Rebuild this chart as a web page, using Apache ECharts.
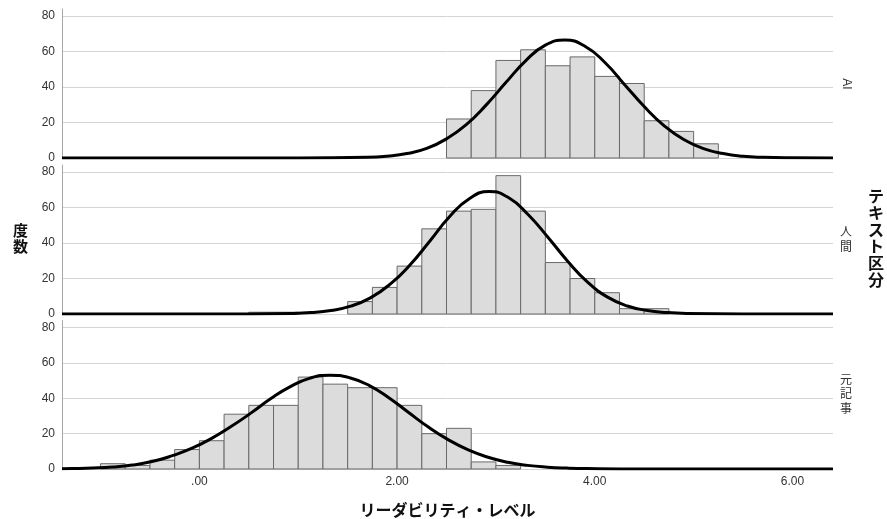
<!DOCTYPE html>
<html>
<head>
<meta charset="utf-8">
<script src="https://cdn.jsdelivr.net/npm/echarts@6/dist/echarts.min.js"></script>
<style>
    html, body { margin: 0; padding: 0; background: #fff; }
    #chart { width: 887px; height: 519px; }
</style>
</head>
<body>
<div id="chart"></div>
<script>
// ビン幅（リーダビリティ・レベル）
var binWidth = 0.25;

// AI
var aiBinLow = [2.5, 2.75, 3.0, 3.25, 3.5, 3.75, 4.0, 4.25, 4.5, 4.75, 5.0];
var aiCounts = [22, 38, 55, 61, 52, 57, 46, 42, 21, 15, 8];
var aiCurveX = [-1.39, 1.0, 1.7, 1.9, 2.1, 2.3, 2.5, 2.7, 2.9, 3.1, 3.3, 3.5, 3.7, 3.9, 4.1, 4.3, 4.5, 4.7, 4.9, 5.1, 5.3, 5.5, 5.7, 6.0, 6.41];
var aiCurveY = [0, 0, 0.4, 1.05, 2.5, 5.4, 10.8, 18.8, 29.8, 42.5, 54.8, 63.6, 66.5, 63, 54, 41.5, 29, 18.3, 10.4, 5.3, 2.5, 1.0, 0.4, 0.1, 0];

// 人間
var humanBinLow = [0.5, 0.75, 1.5, 1.75, 2.0, 2.25, 2.5, 2.75, 3.0, 3.25, 3.5, 3.75, 4.0, 4.25, 4.5];
var humanCounts = [1, 1, 7, 15, 27, 48, 58, 59, 78, 58, 29, 20, 12, 3, 3];
var humanCurveX = [-1.39, 0.5, 0.93, 1.13, 1.33, 1.53, 1.73, 1.93, 2.13, 2.33, 2.53, 2.73, 2.93, 3.13, 3.33, 3.53, 3.73, 3.93, 4.13, 4.33, 4.53, 4.73, 4.93, 5.5, 6.41];
var humanCurveY = [0, 0, 0.27, 0.8, 2.0, 4.4, 9.1, 16.8, 27.6, 41, 54.8, 65, 69, 65.5, 55.8, 43, 29.5, 17.8, 9.5, 4.5, 2.0, 0.8, 0.27, 0, 0];

// 元記事
var origBinLow = [-1.0, -0.75, -0.5, -0.25, 0, 0.25, 0.5, 0.75, 1.0, 1.25, 1.5, 1.75, 2.0, 2.25, 2.5, 2.75, 3.0];
var origCounts = [3, 2, 5, 11, 16, 31, 36, 36, 52, 48, 46, 46, 36, 20, 23, 4, 2];
var origCurveX = [-1.39, -1.28, -1.08, -0.88, -0.68, -0.48, -0.28, -0.08, 0.12, 0.32, 0.52, 0.72, 0.92, 1.12, 1.32, 1.52, 1.72, 1.92, 2.12, 2.32, 2.52, 2.72, 2.92, 3.12, 3.32, 3.52, 3.72, 3.92, 4.5, 6.41];
var origCurveY = [0.15, 0.25, 0.55, 1.1, 2.2, 4.2, 7.4, 11.6, 17.2, 24, 31.6, 39.7, 46.6, 51.4, 53.1, 51.6, 47.2, 40.2, 31.8, 23.6, 16.5, 10.8, 6.65, 3.8, 2.05, 1.05, 0.5, 0.22, 0, 0];

var xTicks = [0, 2, 4, 6];
var yTicks = [0, 20, 40, 60, 80];

var panels = [
    { name: 'AI', low: aiBinLow, counts: aiCounts, cx: aiCurveX, cy: aiCurveY },
    { name: '人間', low: humanBinLow, counts: humanCounts, cx: humanCurveX, cy: humanCurveY },
    { name: '元記事', low: origBinLow, counts: origCounts, cx: origCurveX, cy: origCurveY }
];

var gridTops = [9, 165, 320.5];
var latin = '"Liberation Sans", Arial, sans-serif';
var cjk = '"Noto Sans CJK JP", sans-serif';

function renderBars(params, api) {
    var p0 = api.coord([api.value(0), api.value(2)]);
    var p1 = api.coord([api.value(1), 0]);
    return {
        type: 'rect',
        shape: { x: p0[0], y: p0[1], width: p1[0] - p0[0], height: p1[1] - p0[1] },
        style: { fill: '#dcdcdc', stroke: '#6a6a6a', lineWidth: 1 }
    };
}

var grids = [], xAxes = [], yAxes = [], series = [];
panels.forEach(function (p, i) {
    var last = i === panels.length - 1;
    grids.push({ left: 62, right: 54, top: gridTops[i], height: 149 });
    xAxes.push({
        type: 'value', gridIndex: i, min: -1.39, max: 6.41,
        axisLine: { show: false }, axisTick: { show: false },
        splitLine: { show: false },
        axisLabel: {
            show: last, customValues: xTicks, margin: 7,
            color: '#333', fontSize: 12, fontFamily: latin,
            formatter: function (v) { return v === 0 ? '.00' : v.toFixed(2); }
        },
        name: last ? 'リーダビリティ・レベル' : '',
        nameLocation: 'middle', nameGap: 33,
        nameTextStyle: { color: '#111', fontSize: 16, fontWeight: 'bold', fontFamily: cjk }
    });
    yAxes.push({
        type: 'value', gridIndex: i, min: 0, max: 84, interval: 20,
        axisLine: { show: true, onZero: false, lineStyle: { color: '#a8a8a8', width: 1 } },
        axisTick: { show: false },
        axisLabel: {
            color: '#333', fontSize: 12, fontFamily: latin, margin: 7,
            customValues: yTicks
        },
        splitLine: { show: true, showMaxLine: false, lineStyle: { color: '#d4d4d4', width: 1 } }
    });
    series.push({
        type: 'custom', xAxisIndex: i, yAxisIndex: i,
        renderItem: renderBars,
        encode: { x: [0, 1], y: 2 },
        data: p.low.map(function (lo, k) { return [lo, lo + binWidth, p.counts[k]]; }),
        z: 2
    });
    series.push({
        type: 'line', xAxisIndex: i, yAxisIndex: i,
        smooth: 0.5, symbol: 'none',
        lineStyle: { color: '#000', width: 3 },
        data: p.cx.map(function (x, k) { return [x, p.cy[k]]; }),
        z: 3
    });
});

var chart = echarts.init(document.getElementById('chart'));
chart.setOption({
    animation: false,
    grid: grids,
    xAxis: xAxes,
    yAxis: yAxes,
    series: series,
    graphic: [
        { type: 'text', x: 20.5, y: 238, style: { text: '度\n数', font: 'bold 15px ' + cjk, fill: '#111', align: 'center', verticalAlign: 'middle', lineHeight: 16 } },
        { type: 'text', x: 846, y: 84, rotation: -Math.PI / 2, style: { text: 'AI', font: '12px ' + latin, fill: '#333', align: 'center', verticalAlign: 'middle' } },
        { type: 'text', x: 846, y: 239, style: { text: '人\n間', font: '12px ' + cjk, fill: '#333', align: 'center', verticalAlign: 'middle', lineHeight: 15 } },
        { type: 'text', x: 846, y: 393.5, style: { text: '元\n記\n事', font: '12px ' + cjk, fill: '#333', align: 'center', verticalAlign: 'middle', lineHeight: 14.5 } },
        { type: 'text', x: 876, y: 238, style: { text: 'テ\nキ\nス\nト\n区\n分', font: 'bold 16px ' + cjk, fill: '#111', align: 'center', verticalAlign: 'middle', lineHeight: 16.7 } }
    ]
});
</script>
</body>
</html>
